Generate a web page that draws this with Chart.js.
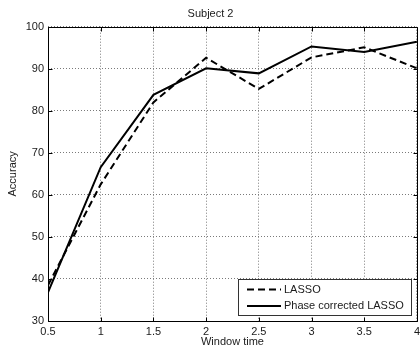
<!DOCTYPE html>
<html>
<head>
<meta charset="utf-8">
<script src="https://cdn.jsdelivr.net/npm/chart.js@4/dist/chart.umd.min.js"></script>
<style>
  html, body { margin: 0; padding: 0; overflow: hidden; background: #fff; }
  canvas { display: block; }
</style>
</head>
<body>
<canvas id="chart" width="424" height="349" style="width:424px;height:349px"></canvas>
<script>
// Classification accuracy versus analysis window length
const windowTimes = [0.5, 1, 1.5, 2, 2.5, 3, 3.5, 4];
const lassoAccuracy = [38.5, 62.5, 82, 92.6, 85.2, 92.7, 95.1, 90.1];
const phaseCorrectedAccuracy = [36.8, 66.6, 83.8, 90.1, 88.9, 95.3, 94.0, 96.4];
const yTicks = [30, 40, 50, 60, 70, 80, 90, 100];
const xTicks = [0.5, 1, 1.5, 2, 2.5, 3, 3.5, 4];

const FONT = "'Liberation Sans', Arial, Helvetica, sans-serif";
const TEXT = '#1a1a1a';

function toPoints(xs, ys) {
  return xs.map((x, i) => ({ x: x, y: ys[i] }));
}

// Axes box with inward tick marks
const axesBox = {
  id: 'axesBox',
  afterDatasetsDraw(chart) {
    const { ctx, chartArea: a, scales } = chart;
    const L = Math.round(a.left) + 0.5, R = Math.round(a.right) + 0.5;
    const T = Math.round(a.top) + 0.5, B = Math.round(a.bottom) + 0.5;
    ctx.save();
    ctx.strokeStyle = '#000';
    ctx.lineWidth = 1;
    ctx.beginPath();
    ctx.rect(L, T, R - L, B - T);
    ctx.stroke();
    const tl = 4;
    ctx.beginPath();
    xTicks.forEach(v => {
      const px = Math.round(scales.x.getPixelForValue(v)) + 0.5;
      ctx.moveTo(px, B); ctx.lineTo(px, B - tl);
      ctx.moveTo(px, T); ctx.lineTo(px, T + tl);
    });
    yTicks.forEach(v => {
      const py = Math.round(scales.y.getPixelForValue(v)) + 0.5;
      ctx.moveTo(L, py); ctx.lineTo(L + tl, py);
      ctx.moveTo(R, py); ctx.lineTo(R - tl, py);
    });
    ctx.stroke();
    ctx.restore();
  }
};

// Boxed legend in the lower right corner of the axes
const boxLegend = {
  id: 'boxLegend',
  afterDraw(chart) {
    const { ctx, chartArea: a } = chart;
    const w = 173, h = 36;
    const right = Math.round(a.right) - 6, bottom = Math.round(a.bottom) - 6;
    const left = right - w, top = bottom - h;
    ctx.save();
    ctx.fillStyle = '#fff';
    ctx.fillRect(left, top, w, h);
    ctx.strokeStyle = '#333';
    ctx.lineWidth = 1;
    ctx.strokeRect(left + 0.5, top + 0.5, w, h);
    ctx.font = '11px ' + FONT;
    ctx.textBaseline = 'middle';
    ctx.fillStyle = TEXT;
    chart.data.datasets.forEach((ds, i) => {
      const y = top + 10.5 + i * 16.5;
      ctx.beginPath();
      ctx.setLineDash(ds.borderDash || []);
      ctx.strokeStyle = ds.borderColor;
      ctx.lineWidth = ds.borderWidth;
      ctx.moveTo(left + 9, y);
      ctx.lineTo(left + 43, y);
      ctx.stroke();
      ctx.setLineDash([]);
      ctx.fillText(ds.label, left + 46, y);
    });
    ctx.restore();
  }
};

new Chart(document.getElementById('chart'), {
  type: 'line',
  data: {
    datasets: [
      {
        label: 'LASSO',
        data: toPoints(windowTimes, lassoAccuracy),
        borderColor: '#000',
        borderWidth: 2,
        borderDash: [7, 4],
        pointRadius: 0,
        tension: 0,
        fill: false
      },
      {
        label: 'Phase corrected LASSO',
        data: toPoints(windowTimes, phaseCorrectedAccuracy),
        borderColor: '#000',
        borderWidth: 2,
        pointRadius: 0,
        tension: 0,
        fill: false
      }
    ]
  },
  options: {
    responsive: false,
    devicePixelRatio: 1,
    animation: false,
    layout: { padding: { left: 0, right: 3, top: 0, bottom: 0 } },
    plugins: {
      legend: { display: false },
      tooltip: { enabled: false },
      title: {
        display: true,
        text: 'Subject 2',
        color: TEXT,
        font: { family: FONT, size: 11, weight: 'normal' },
        padding: { top: 7.5, bottom: 6 }
      }
    },
    scales: {
      x: {
        type: 'linear',
        min: 0.5,
        max: 4,
        afterBuildTicks(scale) { scale.ticks = xTicks.map(v => ({ value: v })); },
        afterFit(scale) { scale.height = 28; },
        ticks: {
          color: TEXT,
          font: { family: FONT, size: 11 },
          padding: 4,
          maxRotation: 0,
          autoSkip: false,
          callback: v => String(v)
        },
        grid: { color: '#7a7a7a', lineWidth: 1, drawTicks: false },
        border: { display: false, dash: [1, 2] },
        title: {
          display: true,
          text: 'Window time',
          color: TEXT,
          font: { family: FONT, size: 11 },
          padding: { top: 0, bottom: 0 }
        }
      },
      y: {
        type: 'linear',
        min: 30,
        max: 100,
        afterBuildTicks(scale) { scale.ticks = yTicks.map(v => ({ value: v })); },
        afterFit(scale) { scale.width = 48; },
        ticks: {
          color: TEXT,
          font: { family: FONT, size: 11 },
          padding: 4,
          autoSkip: false,
          callback: v => String(v)
        },
        grid: { color: '#7a7a7a', lineWidth: 1, drawTicks: false },
        border: { display: false, dash: [1, 2] },
        title: {
          display: true,
          text: 'Accuracy',
          color: TEXT,
          font: { family: FONT, size: 11 },
          padding: { top: 6.5, bottom: 0 }
        }
      }
    }
  },
  plugins: [axesBox, boxLegend]
});
</script>
</body>
</html>
